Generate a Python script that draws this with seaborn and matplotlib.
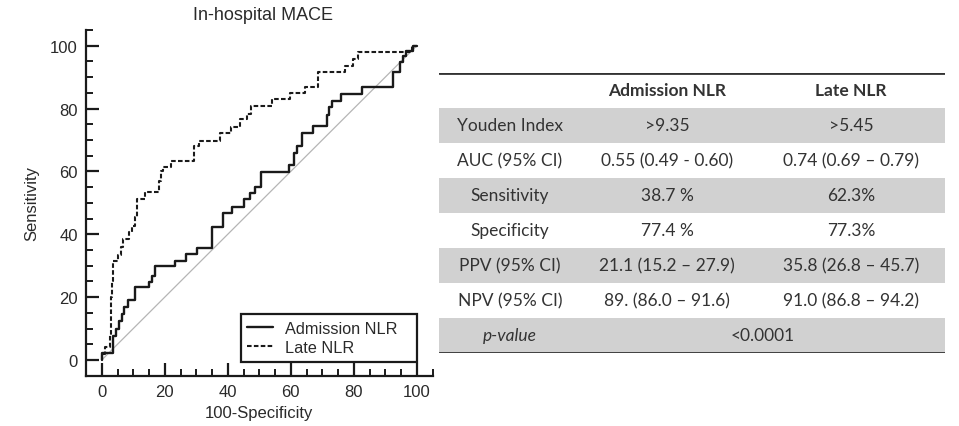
import numpy as np
import pandas as pd
import matplotlib
matplotlib.use("Agg")
import matplotlib.pyplot as plt
import seaborn as sns
from matplotlib.ticker import MultipleLocator

# ---------------- data ----------------
# ROC operating points (100-Specificity, Sensitivity), drawn as steps
adm_fpr = [0, 0.2, 3.7, 4.4, 5.5, 6.3, 7.2, 8.2, 10.4, 15.0, 15.9, 16.9, 23.3, 26.7, 30.2,
           35.0, 38.4, 41.3, 45.3, 47.0, 48.5, 50.5, 59.5, 61.0, 62.0, 63.5, 67.0, 71.5,
           72.0, 73.0, 76.0, 82.5, 92.6, 94.7, 95.7, 96.7, 98.7, 100]
adm_tpr = [0, 2.1, 7.7, 9.9, 12.5, 14.6, 16.8, 19.1, 23.1, 24.9, 26.8, 29.8, 31.6, 33.7, 35.5,
           42.4, 46.7, 48.6, 51.2, 53.0, 55.0, 59.7, 62.0, 66.0, 68.2, 72.2, 74.3, 78.0,
           80.4, 82.4, 84.6, 86.8, 91.5, 94.7, 96.8, 98.4, 100, 100]

late_fpr = [0, 0.2, 1.0, 2.6, 2.8, 3.0, 3.2, 3.5, 3.7, 5.3, 6.0, 6.9, 8.5, 9.5, 10.6, 11.1,
            13.8, 18.3, 18.8, 19.6, 21.9, 29.3, 31.0, 37.6, 41.0, 44.0, 46.2, 47.5, 54.0,
            59.8, 64.6, 68.5, 77.2, 79.9, 81.5, 98.6, 100]
late_tpr = [0, 1.9, 4.0, 8.0, 14.0, 20.0, 25.0, 29.0, 31.6, 33.5, 36.0, 38.5, 40.6, 42.7, 45.4,
            51.2, 53.3, 57.0, 60.2, 61.3, 63.4, 68.2, 69.8, 72.1, 74.0, 76.7, 78.3, 80.7,
            83.0, 84.8, 87.0, 91.5, 93.6, 95.8, 98.1, 100, 100]

ref_line = [0, 100]

series_names = ["Admission NLR", "Late NLR"]
chart_title = "In-hospital MACE"
x_label = "100-Specificity"
y_label = "Sensitivity"

# table
tbl_header = ["", "Admission NLR", "Late NLR"]
tbl_rows = ["Youden Index", "AUC (95% CI)", "Sensitivity", "Specificity",
            "PPV (95% CI)", "NPV (95% CI)"]
tbl_adm = [">9.35", "0.55 (0.49 - 0.60)", "38.7 %", "77.4 %",
           "21.1 (15.2 \u2013 27.9)", "89. (86.0 \u2013 91.6)"]
tbl_late = [">5.45", "0.74 (0.69 \u2013 0.79)", "62.3%", "77.3%",
            "35.8 (26.8 \u2013 45.7)", "91.0 (86.8 \u2013 94.2)"]
pval_label = "p-value"
pval_value = "<0.0001"

# ---------------- figure ----------------
sns.set_theme(style="white")
plt.rcParams["font.family"] = ["Liberation Sans", "DejaVu Sans"]

W, H = 959, 427
fig = plt.figure(figsize=(W / 100, H / 100), dpi=100)
fig.patch.set_facecolor("white")

def fx(px):
    return px / W

def fy(py):
    return 1 - py / H

ax = fig.add_axes([fx(86), fy(376.7), fx(432.5) - fx(86), fy(31) - fy(376.7)])
ax.set_facecolor("white")

sns.lineplot(x=ref_line, y=ref_line, ax=ax, color="#b5b5b5", lw=0.9, sort=False,
             estimator=None, legend=False)
sns.lineplot(x=adm_fpr, y=adm_tpr, ax=ax, color="#1a1a1a", lw=1.7, sort=False,
             estimator=None, drawstyle="steps-post", label=series_names[0])
sns.lineplot(x=late_fpr, y=late_tpr, ax=ax, color="#1a1a1a", lw=1.5, sort=False,
             estimator=None, drawstyle="steps-post", label=series_names[1],
             dashes=False, linestyle=(0, (2.2, 1.1)))

ax.set_xlim(-5, 105)
ax.set_ylim(-5, 105)
ax.xaxis.set_major_locator(MultipleLocator(20))
ax.yaxis.set_major_locator(MultipleLocator(20))
ax.xaxis.set_minor_locator(MultipleLocator(5))
ax.yaxis.set_minor_locator(MultipleLocator(5))
ax.tick_params(which="major", direction="in", length=9.5, width=1.6, colors="#1a1a1a",
               labelsize=12, labelcolor="#2a2a2a", pad=6)
ax.tick_params(which="minor", direction="in", length=5, width=1.4, colors="#1a1a1a")
ax.tick_params(axis="x", which="both", bottom=True, top=False)
ax.tick_params(axis="y", which="both", left=True, right=False)
for s in ["top", "right"]:
    ax.spines[s].set_visible(False)
for s in ["left", "bottom"]:
    ax.spines[s].set_linewidth(1.6)
    ax.spines[s].set_color("#1a1a1a")

ax.set_xlabel(x_label, fontsize=12, color="#2a2a2a", labelpad=4)
ax.set_ylabel(y_label, fontsize=12, color="#2a2a2a", labelpad=8)
fig.text(fx(263), fy(16), chart_title, ha="center", va="center", fontsize=13,
         color="#2a2a2a")

# legend box spans x 44..100 (data) like the reference
leg = ax.legend(loc="lower left", bbox_to_anchor=(44.1, -0.5, 55.9, 20),
                bbox_transform=ax.transData, mode="expand",
                borderaxespad=0, frameon=True, fancybox=False, fontsize=11.7,
                handlelength=1.6, handletextpad=0.7, labelspacing=0.25, borderpad=0.4)
leg.get_frame().set_edgecolor("#1a1a1a")
leg.get_frame().set_linewidth(1.6)
leg.get_frame().set_alpha(1)
for t in leg.get_texts():
    t.set_color("#2a2a2a")

# ---------------- table ----------------
tax = fig.add_axes([fx(439), fy(354), fx(945) - fx(439), fy(74) - fy(354)])
tax.set_xlim(0, 1)
nrows = 1 + len(tbl_rows) + 1
tax.set_ylim(nrows, 0)
tax.axis("off")
gray = "#d1d1d1"
for i in range(1, nrows):
    if i % 2 == 1:
        tax.axhspan(i, i + 1, color=gray, lw=0, zorder=0)
tax.axhline(0, color="#333333", lw=2.0, zorder=3)
tax.axhline(nrows, color="#333333", lw=2.0, zorder=3)

col_c = [0.140, 0.451, 0.814]
tfont = ["Lato", "DejaVu Sans"]
tcol = "#333333"
tsize = 12.5
for j, h in enumerate(tbl_header):
    if h:
        tax.text(col_c[j], 0.5, h, ha="center", va="center", fontsize=tsize,
                 fontweight="bold", family=tfont, color=tcol)
for i, (lab, a, l) in enumerate(zip(tbl_rows, tbl_adm, tbl_late)):
    y = i + 1.5
    tax.text(col_c[0], y, lab, ha="center", va="center", fontsize=tsize, family=tfont, color=tcol)
    tax.text(col_c[1], y, a, ha="center", va="center", fontsize=tsize, family=tfont, color=tcol)
    tax.text(col_c[2], y, l, ha="center", va="center", fontsize=tsize, family=tfont, color=tcol)
y = nrows - 0.5
tax.text(col_c[0], y, pval_label, ha="center", va="center", fontsize=tsize, style="italic",
         family=tfont, color=tcol)
tax.text(0.640, y, pval_value, ha="center", va="center", fontsize=tsize, family=tfont, color=tcol)

fig.savefig("out.png", dpi=100, facecolor="white")
